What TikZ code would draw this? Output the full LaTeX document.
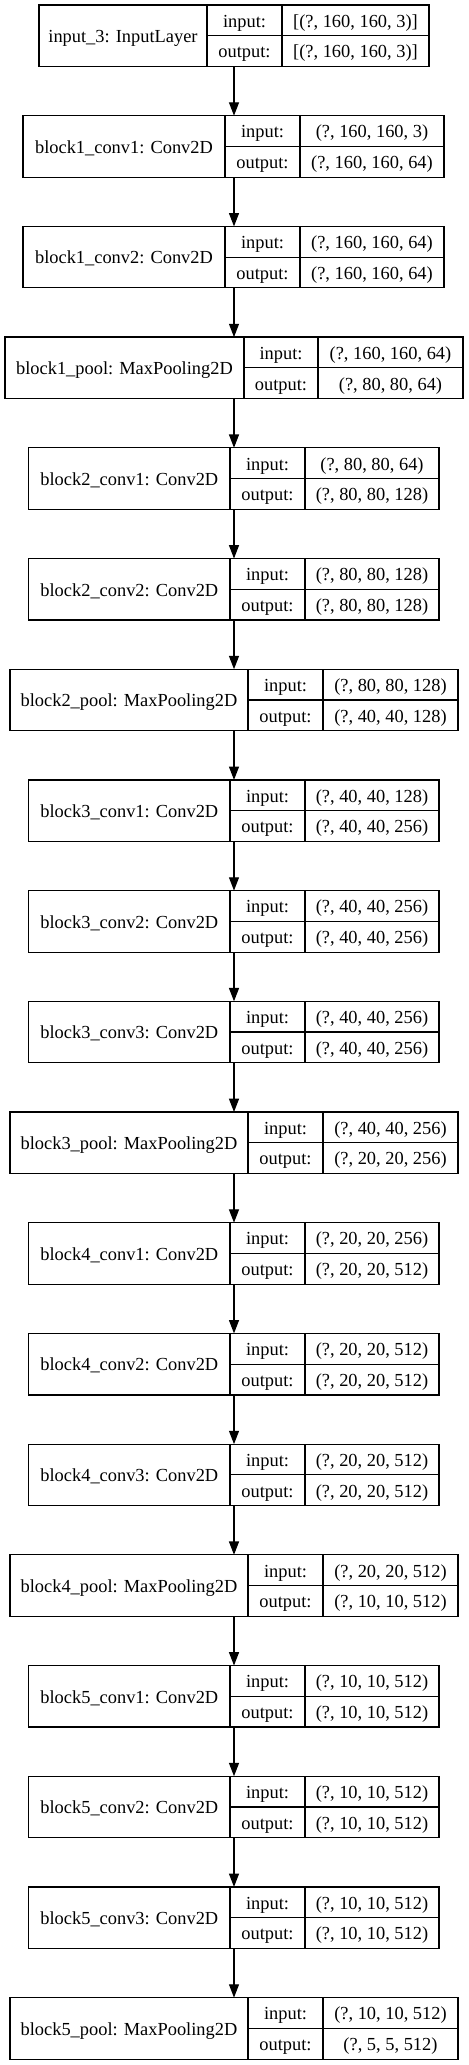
\documentclass[tikz,border=0pt]{standalone}
\usepackage{fontspec}
\setmainfont{Liberation Serif}
\usetikzlibrary{arrows.meta}
\tikzset{
  box/.style={draw=black, line width=0.9pt, inner sep=0pt, outer sep=0pt, fill=white},
  cell/.style={draw=black, line width=0.9pt},
  txt/.style={inner sep=0pt, text height=12.5pt, text depth=2.3pt, font=\fontsize{13.8pt}{16pt}\selectfont},
  arr/.style={draw=black, line width=0.9pt, -{Triangle[length=10pt,width=7.5pt]}}
}
\newcommand\nnlayer[9]{%
  \pgfmathsetmacro\ty{5+110.7*#2}%
  \pgfmathsetmacro\by{\ty+61.5}%
  \pgfmathsetmacro\my{\ty+30.75}%
  \node[box, minimum width={(#6-#3)*0.75pt}, minimum height={61.5*0.75pt}] (#1) at ({(#3+#6)/2},\my) {};
  \draw[cell] (#4,\ty) -- (#4,\by);
  \draw[cell] (#5,\ty) -- (#5,\by);
  \draw[cell] (#4,\my) -- (#6,\my);
  \node[txt] (#1-name) at ({(#3+#4)/2},\my) {#7};
  \node[txt] (#1-il) at ({(#4+#5)/2},{\ty+15.4}) {input:};
  \node[txt] (#1-ol) at ({(#4+#5)/2},{\ty+46.1}) {output:};
  \node[txt] (#1-iv) at ({(#5+#6)/2},{\ty+15.4}) {#8};
  \node[txt] (#1-ov) at ({(#5+#6)/2},{\ty+46.1}) {#9};
}
\begin{document}
\begin{tikzpicture}[x=0.75pt, y=-0.75pt]
\fill[white] (0,0) rectangle (468,2065);
\useasboundingbox (0,0) rectangle (468,2065);
\nnlayer{n0}{0}{39}{207}{282}{429}{input\_3: InputLayer}{[(?, 160, 160, 3)]}{[(?, 160, 160, 3)]}
\nnlayer{n1}{1}{23}{225}{300}{444}{block1\_conv1: Conv2D}{(?, 160, 160, 3)}{(?, 160, 160, 64)}
\nnlayer{n2}{2}{23}{225}{300}{444}{block1\_conv2: Conv2D}{(?, 160, 160, 64)}{(?, 160, 160, 64)}
\nnlayer{n3}{3}{5}{244}{318}{463}{block1\_pool: MaxPooling2D}{(?, 160, 160, 64)}{(?, 80, 80, 64)}
\nnlayer{n4}{4}{28.7}{230}{305}{439}{block2\_conv1: Conv2D}{(?, 80, 80, 64)}{(?, 80, 80, 128)}
\nnlayer{n5}{5}{28.7}{230}{305}{439}{block2\_conv2: Conv2D}{(?, 80, 80, 128)}{(?, 80, 80, 128)}
\nnlayer{n6}{6}{10}{248}{323}{458}{block2\_pool: MaxPooling2D}{(?, 80, 80, 128)}{(?, 40, 40, 128)}
\nnlayer{n7}{7}{28.7}{230}{305}{439}{block3\_conv1: Conv2D}{(?, 40, 40, 128)}{(?, 40, 40, 256)}
\nnlayer{n8}{8}{28.7}{230}{305}{439}{block3\_conv2: Conv2D}{(?, 40, 40, 256)}{(?, 40, 40, 256)}
\nnlayer{n9}{9}{28.7}{230}{305}{439}{block3\_conv3: Conv2D}{(?, 40, 40, 256)}{(?, 40, 40, 256)}
\nnlayer{n10}{10}{10}{248}{323}{458}{block3\_pool: MaxPooling2D}{(?, 40, 40, 256)}{(?, 20, 20, 256)}
\nnlayer{n11}{11}{28.7}{230}{305}{439}{block4\_conv1: Conv2D}{(?, 20, 20, 256)}{(?, 20, 20, 512)}
\nnlayer{n12}{12}{28.7}{230}{305}{439}{block4\_conv2: Conv2D}{(?, 20, 20, 512)}{(?, 20, 20, 512)}
\nnlayer{n13}{13}{28.7}{230}{305}{439}{block4\_conv3: Conv2D}{(?, 20, 20, 512)}{(?, 20, 20, 512)}
\nnlayer{n14}{14}{10}{248}{323}{458}{block4\_pool: MaxPooling2D}{(?, 20, 20, 512)}{(?, 10, 10, 512)}
\nnlayer{n15}{15}{28.7}{230}{305}{439}{block5\_conv1: Conv2D}{(?, 10, 10, 512)}{(?, 10, 10, 512)}
\nnlayer{n16}{16}{28.7}{230}{305}{439}{block5\_conv2: Conv2D}{(?, 10, 10, 512)}{(?, 10, 10, 512)}
\nnlayer{n17}{17}{28.7}{230}{305}{439}{block5\_conv3: Conv2D}{(?, 10, 10, 512)}{(?, 10, 10, 512)}
\nnlayer{n18}{18}{10}{248}{323}{458}{block5\_pool: MaxPooling2D}{(?, 10, 10, 512)}{(?, 5, 5, 512)}
\foreach \a/\b in {n0/n1,n1/n2,n2/n3,n3/n4,n4/n5,n5/n6,n6/n7,n7/n8,n8/n9,n9/n10,n10/n11,n11/n12,n12/n13,n13/n14,n14/n15,n15/n16,n16/n17,n17/n18}
  \draw[arr] (\a.south -| n0.south) -- (\b.north -| n0.south);
\end{tikzpicture}
\end{document}
